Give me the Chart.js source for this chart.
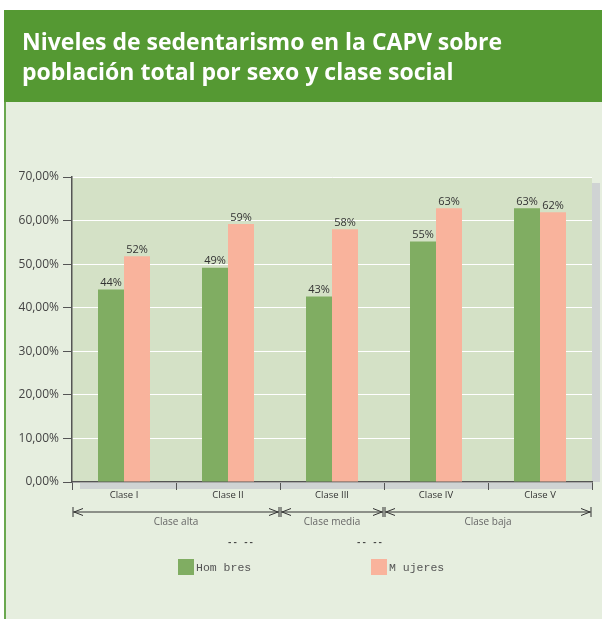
<!DOCTYPE html>
<html lang="es">
<head>
<meta charset="UTF-8">
<title>Niveles de sedentarismo en la CAPV</title>
<script src="https://cdn.jsdelivr.net/npm/chart.js"></script>
<style>
  body { margin: 0; background: #fff; }
  canvas { display: block; }
</style>
</head>
<body>
<canvas id="chart" width="602" height="619"></canvas>
<script>
// data
const categories = ['Clase I', 'Clase II', 'Clase III', 'Clase IV', 'Clase V'];
const hombres = [44.2, 49.2, 42.6, 55.2, 62.8];
const mujeres = [51.8, 59.2, 58.0, 62.8, 61.9];
const yTickLabels = ['0,00%', '10,00%', '20,00%', '30,00%', '40,00%', '50,00%', '60,00%', '70,00%'];
const groupLabels = ['Clase alta', 'Clase media', 'Clase baja'];
const groupFirst = [0, 2, 3];
const groupLast = [1, 2, 4];
const legendLabels = ['Hom bres', 'M ujeres'];

const titleLines = ['Niveles de sedentarismo en la CAPV sobre', 'población total por sexo y clase social'];

// page background, header and plot backdrop
const backdrop = {
  id: 'backdrop',
  beforeDraw(chart) {
    const { ctx, chartArea: a } = chart;
    ctx.save();
    ctx.fillStyle = '#ffffff';
    ctx.fillRect(0, 0, chart.width, chart.height);
    ctx.fillStyle = '#e6eedf';
    ctx.fillRect(4, 102, chart.width - 4, chart.height - 102);
    ctx.fillStyle = '#6aa84f';
    ctx.fillRect(4, 102, 2, chart.height - 102);
    ctx.fillStyle = '#559933';
    ctx.fillRect(4, 10, chart.width - 4, 92);

    ctx.fillStyle = '#ffffff';
    ctx.font = 'bold 23px "Open Sans"';
    ctx.textBaseline = 'alphabetic';
    ctx.fillText(titleLines[0], 22, 50);
    ctx.fillText(titleLines[1], 22, 80);

    ctx.fillStyle = '#d4e1c6';
    ctx.fillRect(a.left, a.top, a.width, a.height);
    // grey wall and floor
    ctx.fillStyle = '#cfd3d3';
    ctx.fillRect(a.right, a.top + 6, 8, a.height - 6);
    ctx.fillRect(a.left + 8, a.bottom + 1, a.width - 8, 6);
    ctx.restore();
  }
};

// value labels above the bars
const valueLabels = {
  id: 'valueLabels',
  afterDatasetsDraw(chart) {
    const { ctx } = chart;
    ctx.save();
    ctx.font = '500 11px "Open Sans"';
    ctx.fillStyle = '#333';
    ctx.textAlign = 'center';
    ctx.textBaseline = 'bottom';
    chart.data.datasets.forEach((ds, i) => {
      chart.getDatasetMeta(i).data.forEach((bar, j) => {
        ctx.fillText(Math.round(ds.data[j]) + '%', bar.x, bar.y - 1);
      });
    });
    ctx.restore();
  }
};

// class group brackets and legend
const extras = {
  id: 'extras',
  afterDraw(chart) {
    const { ctx } = chart;
    const xs = chart.scales.x;
    const w = xs.width / categories.length;
    const y = 512;
    ctx.save();
    ctx.strokeStyle = '#333';
    ctx.lineWidth = 1;
    groupLabels.forEach((label, g) => {
      const x1 = xs.getPixelForValue(groupFirst[g]) - w / 2;
      const x2 = xs.getPixelForValue(groupLast[g]) + w / 2;
      ctx.beginPath();
      ctx.moveTo(x1 + 1, y); ctx.lineTo(x2 - 1, y);
      ctx.moveTo(x1 + 1, y - 5); ctx.lineTo(x1 + 1, y + 5);
      ctx.moveTo(x2 - 1, y - 5); ctx.lineTo(x2 - 1, y + 5);
      ctx.moveTo(x1 + 11, y - 3.5); ctx.lineTo(x1 + 2, y); ctx.lineTo(x1 + 11, y + 3.5);
      ctx.moveTo(x2 - 11, y - 3.5); ctx.lineTo(x2 - 2, y); ctx.lineTo(x2 - 11, y + 3.5);
      ctx.stroke();
      ctx.fillStyle = '#666';
      ctx.font = '10px "Open Sans"';
      ctx.textAlign = 'center';
      ctx.textBaseline = 'middle';
      ctx.fillText(label, (x1 + x2) / 2, 522);
    });

    // stray marks above the legend
    ctx.fillStyle = '#444';
    ctx.font = 'bold 9px "Liberation Mono"';
    ctx.textAlign = 'left';
    ctx.fillText('-- --', 227, 543);
    ctx.fillText('-- --', 356, 543);

    const lx = [178, 371];
    ctx.font = '11.5px "Liberation Mono"';
    ctx.textBaseline = 'middle';
    chart.data.datasets.forEach((ds, i) => {
      ctx.fillStyle = ds.backgroundColor;
      ctx.fillRect(lx[i], 559, 16, 16);
      ctx.fillStyle = '#555';
      ctx.fillText(legendLabels[i], lx[i] + 18, 568);
    });
    ctx.restore();
  }
};

new Chart(document.getElementById('chart'), {
  type: 'bar',
  data: {
    labels: categories,
    datasets: [
      { label: 'Hombres', data: hombres, backgroundColor: '#80ad62' },
      { label: 'Mujeres', data: mujeres, backgroundColor: '#f9b39c' }
    ]
  },
  options: {
    responsive: false,
    animation: false,
    layout: { padding: { top: 177, right: 10, bottom: 117, left: 0 } },
    datasets: { bar: { categoryPercentage: 0.5, barPercentage: 1 } },
    plugins: { legend: { display: false }, tooltip: { enabled: false } },
    scales: {
      x: {
        afterFit(scale) { scale.height = 20; },
        border: { color: '#555', width: 1.5 },
        grid: { offset: true, drawOnChartArea: false, tickLength: 8, color: '#555' },
        ticks: { color: '#333', font: { family: 'Open Sans', size: 9.5 }, padding: 0 }
      },
      y: {
        min: 0,
        max: 70,
        afterFit(scale) { scale.width = 72; },
        border: { color: '#555', width: 1.5 },
        grid: { color: '#ffffff', tickColor: '#555', tickLength: 9 },
        ticks: {
          stepSize: 10,
          color: '#444',
          font: { family: 'Open Sans', size: 12 },
          padding: 4,
          callback: (v) => yTickLabels[Math.round(v / 10)]
        }
      }
    }
  },
  plugins: [backdrop, valueLabels, extras]
});
</script>
</body>
</html>
